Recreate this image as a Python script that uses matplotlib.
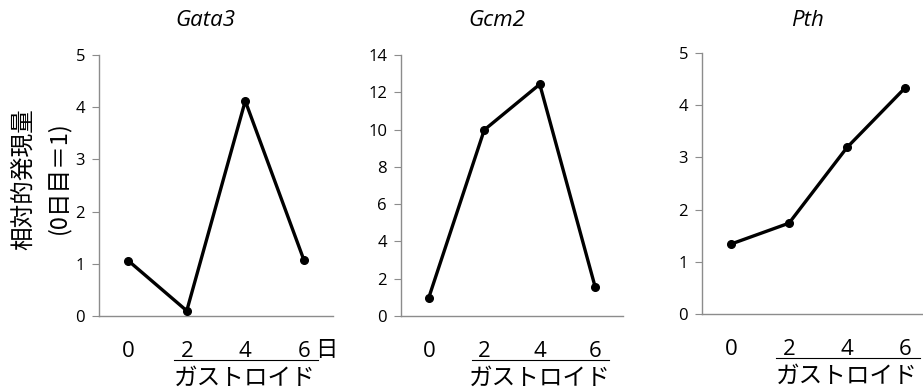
import matplotlib
matplotlib.use("Agg")
import matplotlib.pyplot as plt

plt.rcParams["font.family"] = ["Open Sans", "Noto Sans CJK JP", "DejaVu Sans"]

# ── Data ──────────────────────────────────────────────────────────────────────
days = ["0", "2", "4", "6"]
genes = ["Gata3", "Gcm2", "Pth"]
gata3 = [1.06, 0.10, 4.12, 1.08]
gcm2 = [0.98, 9.98, 12.43, 1.54]
pth = [1.34, 1.74, 3.19, 4.33]
series = [gata3, gcm2, pth]
ymax = [5, 14, 5]
ystep = [1, 2, 1]

W, H = 923, 392
fig = plt.figure(figsize=(W / 100, H / 100), dpi=100)
fig.patch.set_facecolor("white")

# pixel boxes: (left, right, top, bottom)
boxes = [(99, 333, 55, 316), (401, 623, 55, 316), (702, 934, 53, 314)]
title_x = [205, 497, 808]
GRAY = "#8c8c8c"

for i, (vals, (l, r, t, b)) in enumerate(zip(series, boxes)):
    ax = fig.add_axes([l / W, 1 - b / H, (r - l) / W, (b - t) / H])
    x = range(len(days))
    ax.plot(x, vals, color="black", lw=2.4, marker="o", ms=5.5, clip_on=False, zorder=3)
    ax.set_xlim(-0.5, len(days) - 0.5)
    ax.set_ylim(0, ymax[i])
    ax.set_yticks(range(0, ymax[i] + 1, ystep[i]))
    ax.set_xticks(list(x))
    ax.set_xticklabels(days, fontsize=16)
    for s in ("top", "right"):
        ax.spines[s].set_visible(False)
    for s in ("left", "bottom"):
        ax.spines[s].set_color(GRAY)
        ax.spines[s].set_linewidth(1.0)
    ax.tick_params(axis="y", length=5, color=GRAY, labelsize=12, pad=5)
    ax.tick_params(axis="x", length=0, pad=18)

    # underline + group label
    ax.plot([0.78, 3.25], [-44 / (b - t)] * 2, transform=ax.get_xaxis_transform(),
            color="black", lw=0.8, clip_on=False)
    ax.text(2.0, -62 / (b - t), "ガストロイド", transform=ax.get_xaxis_transform(),
            ha="center", va="center", fontsize=17, family="Noto Sans CJK JP")

    fig.text(title_x[i] / W, 1 - 20 / H, genes[i], ha="center", va="center",
             fontsize=16, style="italic", family="Open Sans")

    if i == 0:
        ax.annotate("日", xy=(3, 0), xycoords=("data", "axes fraction"),
                    xytext=(22, -34), textcoords="offset pixels",
                    ha="center", va="center", fontsize=16, family="Noto Sans CJK JP")

fig.text(25 / W, 1 - 179 / H, "相対的発現量", rotation=90, ha="center", va="center",
         fontsize=17, family="Noto Sans CJK JP")
fig.text(58 / W, 1 - 178 / H, "(0日目＝1)", rotation=90, ha="center", va="center",
         fontsize=17, family=["Noto Sans CJK JP", "DejaVu Sans"])

fig.savefig("out.png", dpi=100, facecolor="white")
